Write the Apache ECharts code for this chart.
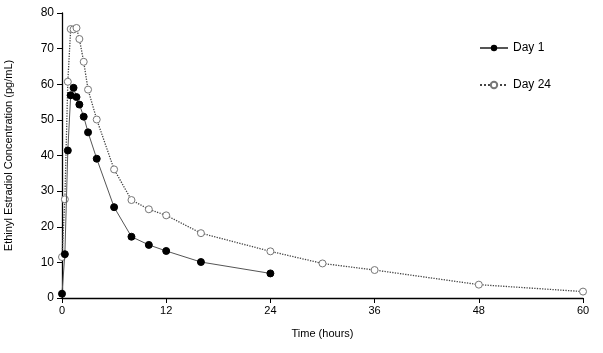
<!DOCTYPE html>
<html>
<head>
<meta charset="utf-8">
<script src="https://cdn.jsdelivr.net/npm/echarts@6/dist/echarts.min.js"></script>
<style>
  html, body { margin: 0; padding: 0; background: #fff; }
  #chart { width: 603px; height: 353px; }
</style>
</head>
<body>
<div id="chart"></div>
<script>
  // sampling times (hours) and mean concentrations (pg/mL)
  var day1Time = [0, 0.33, 0.67, 1, 1.33, 1.67, 2, 2.5, 3, 4, 6, 8, 10, 12, 16, 24];
  var day1Conc = [1.2, 12.3, 41.4, 56.9, 59.0, 56.4, 54.3, 50.9, 46.5, 39.1, 25.5, 17.2, 14.9, 13.2, 10.1, 6.9];

  var day24Time = [0, 0.33, 0.67, 1, 1.33, 1.67, 2, 2.5, 3, 4, 6, 8, 10, 12, 16, 24, 30, 36, 48, 60];
  var day24Conc = [11.5, 27.7, 60.7, 75.5, 75.4, 75.8, 72.7, 66.3, 58.5, 50.1, 36.1, 27.5, 24.9, 23.2, 18.2, 13.1, 9.7, 7.85, 3.75, 1.8];

  var xTicks = [0, 12, 24, 36, 48, 60];
  var yTicks = [0, 10, 20, 30, 40, 50, 60, 70, 80];

  function pairs(xs, ys) {
    var out = [];
    for (var i = 0; i < xs.length; i++) out.push([xs[i], ys[i]]);
    return out;
  }

  var font = 'Liberation Sans, Arial, sans-serif';
  var chart = echarts.init(document.getElementById('chart'));
  var option = {
    backgroundColor: '#fff',
    animation: false,
    textStyle: { fontFamily: font },
    grid: { left: 62, right: 20, top: 13, bottom: 55, containLabel: false, outerBoundsMode: 'none' },
    legend: {
      orient: 'vertical',
      left: 474,
      top: 37,
      itemGap: 25,
      itemWidth: 28,
      itemHeight: 8,
      textStyle: { fontFamily: font, fontSize: 12, color: '#000' },
      data: ['Day 1', 'Day 24']
    },
    xAxis: {
      type: 'value',
      min: xTicks[0],
      max: xTicks[xTicks.length - 1],
      interval: 12,
      name: 'Time (hours)',
      nameLocation: 'middle',
      nameGap: 30,
      nameTextStyle: { fontFamily: font, fontSize: 11, color: '#000' },
      axisLine: { lineStyle: { color: '#000', width: 1.3 } },
      axisTick: { length: 5, lineStyle: { color: '#000' } },
      axisLabel: { fontFamily: font, fontSize: 11, color: '#000', margin: 7 },
      splitLine: { show: false }
    },
    yAxis: {
      type: 'value',
      min: yTicks[0],
      max: yTicks[yTicks.length - 1],
      interval: 10,
      name: 'Ethinyl Estradiol Concentration (pg/mL)',
      nameLocation: 'middle',
      nameGap: 48,
      nameTextStyle: { fontFamily: font, fontSize: 11, color: '#000' },
      axisLine: { show: true, lineStyle: { color: '#000', width: 1.3 } },
      axisTick: { show: true, length: 5, lineStyle: { color: '#000' } },
      axisLabel: { fontFamily: font, fontSize: 12, color: '#000', margin: 8 },
      splitLine: { show: false }
    },
    series: [
      {
        name: 'Day 1',
        type: 'line',
        data: pairs(day1Time, day1Conc),
        symbol: 'circle',
        symbolSize: 7,
        itemStyle: { color: '#000', borderColor: '#000' },
        lineStyle: { color: '#555', width: 1 },
        z: 3
      },
      {
        name: 'Day 24',
        type: 'line',
        data: pairs(day24Time, day24Conc),
        symbol: 'circle',
        symbolSize: 7,
        itemStyle: { color: '#fff', borderColor: '#777', borderWidth: 1 },
        lineStyle: { color: '#444', width: 1.3, type: 'dotted' },
        z: 2
      }
    ]
  };
  chart.setOption(option);
</script>
</body>
</html>
